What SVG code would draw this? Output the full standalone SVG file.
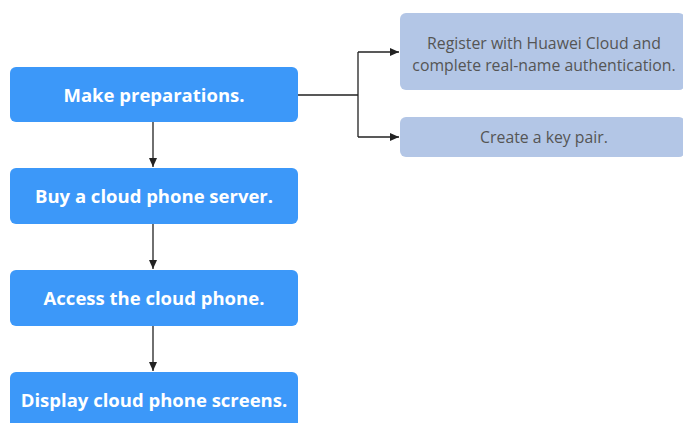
<svg xmlns="http://www.w3.org/2000/svg" width="683" height="423" viewBox="0 0 683 423">
<style>
.main rect{fill:#3c98f9;}
.main text{fill:#fff;font-family:"Open Sans","Liberation Sans",sans-serif;font-weight:bold;font-size:18.5px;text-anchor:middle;}
.sub rect{fill:#b3c6e6;}
.sub text{fill:#555;font-family:"Open Sans","Liberation Sans",sans-serif;font-size:15.8px;text-anchor:middle;}
.conn{stroke:#222;stroke-width:1.3;fill:none;}
</style>
<defs>
<marker id="ah" markerWidth="10" markerHeight="10" refX="9" refY="5" orient="auto" markerUnits="userSpaceOnUse">
<path d="M0,1 L9,5 L0,9 z" fill="#222"/>
</marker>
</defs>
<rect width="683" height="423" fill="#fff"/>
<g id="connectors">
<path class="conn" d="M153,122 V167" marker-end="url(#ah)"/>
<path class="conn" d="M153,224 V269" marker-end="url(#ah)"/>
<path class="conn" d="M153,326 V371" marker-end="url(#ah)"/>
<path class="conn" d="M298,95 H358 M358,52 V137"/>
<path class="conn" d="M358,52 H399" marker-end="url(#ah)"/>
<path class="conn" d="M358,137 H399" marker-end="url(#ah)"/>
</g>
<g id="n1" class="main"><rect x="10" y="67" width="288" height="55" rx="6"/><text x="154" y="102">Make preparations.</text></g>
<g id="n2" class="main"><rect x="10" y="168" width="288" height="56" rx="6"/><text x="154" y="203">Buy a cloud phone server.</text></g>
<g id="n3" class="main"><rect x="10" y="270" width="288" height="56" rx="6"/><text x="154" y="305">Access the cloud phone.</text></g>
<g id="n4" class="main"><rect x="10" y="372" width="288" height="60" rx="6"/><text x="154" y="407">Display cloud phone screens.</text></g>
<g id="s1" class="sub"><rect x="400" y="13" width="285" height="77" rx="6"/><text x="544" y="49">Register with Huawei Cloud and</text><text x="544" y="71">complete real-name authentication.</text></g>
<g id="s2" class="sub"><rect x="400" y="117" width="285" height="40" rx="6"/><text x="544" y="143">Create a key pair.</text></g>
</svg>
